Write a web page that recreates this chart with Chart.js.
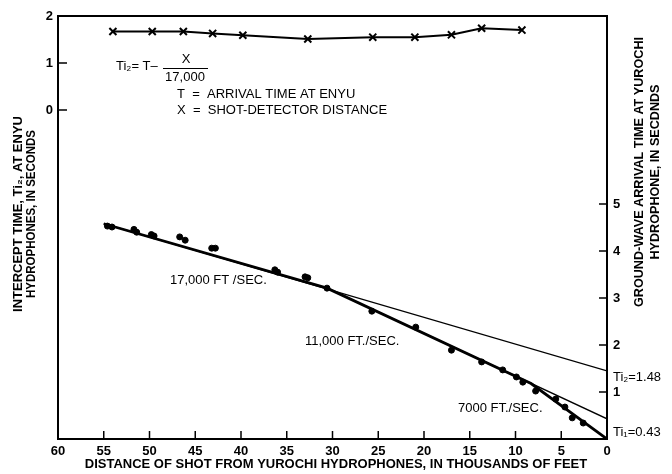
<!DOCTYPE html>
<html>
<head>
<meta charset="utf-8">
<script src="https://cdn.jsdelivr.net/npm/chart.js@4/dist/chart.umd.min.js"></script>
<style>
  html, body { margin: 0; padding: 0; background: #fff; }
  #wrap { width: 672px; height: 474px; }
</style>
</head>
<body>
<div id="wrap"><canvas id="c"></canvas></div>
<script>
// distances in thousands of feet, times in seconds
const interceptDist = [54.0, 49.7, 46.3, 43.1, 39.8, 32.7, 25.6, 21.0, 17.0, 13.7, 9.3]
const interceptTime = [1.67, 1.67, 1.67, 1.63, 1.59, 1.51, 1.55, 1.55, 1.60, 1.74, 1.70]

const shotDist = [54.6, 54.1, 51.7, 51.4, 49.8, 49.5, 46.7, 46.1, 43.2, 42.8, 36.3, 36.0, 33.0, 32.7, 30.6, 25.7, 20.9, 17.0, 13.7, 11.4, 9.9, 9.2, 7.8, 5.6, 4.6, 3.8, 2.6]
const shotTime = [4.53, 4.51, 4.46, 4.40, 4.35, 4.32, 4.30, 4.23, 4.06, 4.06, 3.60, 3.55, 3.45, 3.43, 3.21, 2.72, 2.38, 1.89, 1.64, 1.47, 1.32, 1.21, 1.02, 0.85, 0.68, 0.45, 0.34]

const fitDist = [55, 30.6, 8.3, 0]
const fitTime = [4.58, 3.21, 1.18, 0]
const line17Dist = [55, 0]
const line17Time = [4.58, 1.45]
const line11Dist = [30.6, 0]
const line11Time = [3.21, 0.43]

const xTicks = [60, 55, 50, 45, 40, 35, 30, 25, 20, 15, 10, 5, 0]
const leftTicks = [0, 1, 2]
const rightTicks = [1, 2, 3, 4, 5]

const pts = ( xs, ys ) => xs.map( ( x, i ) => ( { x, y: ys[ i ] } ) )

const BOLD = 'bold 13px "Liberation Sans", Arial, "DejaVu Sans", sans-serif'
const REG = '13px "Liberation Sans", Arial, "DejaVu Sans", sans-serif'

function txt( ctx, s, x, y, font, align, maxW, rot ) {
  ctx.save()
  ctx.font = font
  ctx.textAlign = align || 'left'
  ctx.textBaseline = 'middle'
  ctx.translate( x, y )
  if ( rot ) ctx.rotate( rot )
  if ( maxW ) ctx.fillText( s, 0, 0, maxW )
  else ctx.fillText( s, 0, 0 )
  ctx.restore()
}

const decor = {
  id: 'decor',
  afterDraw( chart ) {
    const { ctx, chartArea: a, scales } = chart
    const sx = scales.x, yl = scales.yL, yr = scales.yR
    ctx.save()
    ctx.fillStyle = '#000'
    ctx.strokeStyle = '#000'
    // frame
    ctx.lineWidth = 2
    ctx.strokeRect( a.left, a.top, a.right - a.left, a.bottom - a.top )
    // ticks
    ctx.lineWidth = 1.5
    ctx.beginPath()
    xTicks.forEach( v => {
      const p = sx.getPixelForValue( v )
      ctx.moveTo( p, a.bottom ); ctx.lineTo( p, a.bottom - 8 )
    } )
    leftTicks.forEach( v => {
      const p = yl.getPixelForValue( v )
      ctx.moveTo( a.left, p ); ctx.lineTo( a.left + 9, p )
    } )
    rightTicks.forEach( v => {
      const p = yr.getPixelForValue( v )
      ctx.moveTo( a.right, p ); ctx.lineTo( a.right - 8, p )
    } )
    ctx.stroke()
    // tick labels
    xTicks.forEach( v => txt( ctx, String( v ), sx.getPixelForValue( v ), a.bottom + 12, BOLD, 'center' ) )
    leftTicks.forEach( v => txt( ctx, String( v ), a.left - 5, yl.getPixelForValue( v ), BOLD, 'right' ) )
    rightTicks.forEach( v => txt( ctx, String( v ), a.right + 6, yr.getPixelForValue( v ), BOLD, 'left' ) )

    // axis titles
    txt( ctx, 'DISTANCE OF SHOT FROM YUROCHI HYDROPHONES, IN THOUSANDS OF FEET', 336, 464, BOLD, 'center', 572 )
    txt( ctx, 'INTERCEPT TIME, Ti\u2082, AT ENYU', 18, 214, BOLD, 'center', 205, -Math.PI / 2 )
    txt( ctx, 'HYDROPHONES, IN SECONDS', 31, 214, BOLD, 'center', 168, -Math.PI / 2 )
    txt( ctx, 'GROUND-WAVE ARRIVAL TIME AT YUROCHI', 639, 172, BOLD, 'center', 270, -Math.PI / 2 )
    txt( ctx, 'HYDROPHONE, IN SECDNDS', 655, 172, BOLD, 'center', 175, -Math.PI / 2 )

    // formula
    txt( ctx, 'Ti\u2082= T\u2013', 116, 66, REG, 'left', 46 )
    txt( ctx, 'X', 186, 59, REG, 'center' )
    ctx.lineWidth = 1.2
    ctx.beginPath(); ctx.moveTo( 163, 68.5 ); ctx.lineTo( 208, 68.5 ); ctx.stroke()
    txt( ctx, '17,000', 185, 77, REG, 'center', 42 )
    txt( ctx, 'T  =  ARRIVAL TIME AT ENYU', 177, 94, REG, 'left', 206 )
    txt( ctx, 'X  =  SHOT-DETECTOR DISTANCE', 177, 110, REG, 'left', 233 )

    // line labels
    txt( ctx, '17,000 FT /SEC.', 170, 280, REG, 'left', 112 )
    txt( ctx, '11,000 FT./SEC.', 305, 341, REG, 'left', 120 )
    txt( ctx, '7000 FT./SEC.', 458, 408, REG, 'left', 102 )
    txt( ctx, 'Ti\u2082=1.48', 613, 377, REG, 'left', 48 )
    txt( ctx, 'Ti\u2081=0.43', 613, 432, REG, 'left', 52 )
    ctx.restore()
  }
}

new Chart( document.getElementById( 'c' ), {
  type: 'scatter',
  data: {
    datasets: [
      {
        data: pts( interceptDist, interceptTime ),
        yAxisID: 'yL',
        showLine: true,
        borderColor: '#000',
        borderWidth: 2,
        pointStyle: 'crossRot',
        pointRadius: 5,
        pointBorderWidth: 2,
        pointBorderColor: '#000'
      },
      {
        data: pts( shotDist, shotTime ),
        yAxisID: 'yR',
        showLine: false,
        backgroundColor: '#000',
        borderColor: '#000',
        pointRadius: 3
      },
      {
        data: pts( fitDist, fitTime ),
        yAxisID: 'yR',
        showLine: true,
        borderColor: '#000',
        borderWidth: 2.8,
        pointRadius: 0
      },
      {
        data: pts( line17Dist, line17Time ),
        yAxisID: 'yR',
        showLine: true,
        borderColor: '#000',
        borderWidth: 1.3,
        pointRadius: 0
      },
      {
        data: pts( line11Dist, line11Time ),
        yAxisID: 'yR',
        showLine: true,
        borderColor: '#000',
        borderWidth: 1.3,
        pointRadius: 0
      }
    ]
  },
  options: {
    responsive: true,
    maintainAspectRatio: false,
    animation: false,
    layout: { padding: { top: 16 } },
    plugins: { legend: { display: false }, tooltip: { enabled: false } },
    scales: {
      x: {
        type: 'linear', min: 0, max: 60, reverse: true,
        grid: { display: false }, border: { display: false },
        ticks: { display: false },
        afterFit: s => { s.height = 35 }
      },
      yL: {
        position: 'left', min: -7, max: 2,
        grid: { display: false }, border: { display: false },
        ticks: { display: false },
        afterFit: s => { s.width = 58 }
      },
      yR: {
        position: 'right', min: 0, max: 9,
        grid: { display: false }, border: { display: false },
        ticks: { display: false },
        afterFit: s => { s.width = 65 }
      }
    }
  },
  plugins: [ decor ]
} )
</script>
</body>
</html>
